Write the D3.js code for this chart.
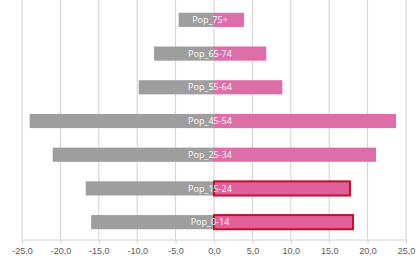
<!DOCTYPE html>
<html>
<head>
<meta charset="utf-8">
<script src="https://cdn.jsdelivr.net/npm/d3@7"></script>
<style>
  body { margin: 0; background: #fff; }
  svg { display: block; font-family: "Open Sans", sans-serif; }
</style>
</head>
<body>
<div class="pyramid"></div>
<script>
const groups = ["Pop_75+", "Pop_65-74", "Pop_55-64", "Pop_45-54", "Pop_25-34", "Pop_15-24", "Pop_0-14"];
const male = [-4.6, -7.8, -9.8, -24.0, -21.0, -16.7, -16.0];
const female = [3.9, 6.8, 8.9, 23.7, 21.1, 17.7, 18.1];
const highlighted = ["Pop_15-24", "Pop_0-14"];
const xTicks = [-25, -20, -15, -10, -5, 0, 5, 10, 15, 20, 25];

const w = 419;
const h = 266;

const svg = d3.select(".pyramid")
    .append("svg")
    .attr("width", w)
    .attr("height", h);

const x = d3.scaleLinear().domain([-25, 25]).range([22, 406]);
const y = d3.scaleBand().domain(groups).range([3, 239]).paddingInner(0.58).paddingOuter(0.29);

// vertical gridlines
svg.append("g")
    .selectAll("line")
    .data(xTicks)
    .enter()
    .append("line")
    .attr("x1", d => x(d))
    .attr("x2", d => x(d))
    .attr("y1", 0)
    .attr("y2", 239)
    .attr("stroke", "#d0d0d0")
    .attr("stroke-width", 1);

// x axis
const xAxis = svg.append("g")
    .attr("transform", "translate(0,239.5)")
    .call(d3.axisBottom(x).tickValues(xTicks).tickSize(4).tickFormat(d => d3.format(".1f")(d).replace(".", ",").replace("−", "-")));
xAxis.select(".domain").attr("stroke", "#d0d0d0");
xAxis.selectAll(".tick line").attr("stroke", "#d0d0d0");
xAxis.selectAll(".tick text")
    .attr("fill", "#595959")
    .attr("font-size", 9)
    .attr("dy", "0.85em");

// male bars
svg.append("g")
    .selectAll("rect")
    .data(groups)
    .enter()
    .append("rect")
    .attr("x", (d, i) => x(male[i]))
    .attr("y", d => y(d))
    .attr("width", (d, i) => x(0) - x(male[i]))
    .attr("height", y.bandwidth())
    .attr("fill", "#9e9e9e");

// female bars
svg.append("g")
    .selectAll("rect")
    .data(groups)
    .enter()
    .append("rect")
    .attr("x", x(0))
    .attr("y", d => y(d))
    .attr("width", (d, i) => x(female[i]) - x(0))
    .attr("height", y.bandwidth())
    .attr("fill", d => highlighted.includes(d) ? "#e0609a" : "#dc6ea8")
    .attr("stroke", d => highlighted.includes(d) ? "#c4102c" : "none")
    .attr("stroke-width", 2);

// labels
svg.append("g")
    .selectAll("text")
    .data(groups)
    .enter()
    .append("text")
    .attr("x", x(0) - 4)
    .attr("y", d => y(d) + y.bandwidth() / 2)
    .attr("dy", "0.35em")
    .attr("text-anchor", "middle")
    .attr("font-size", 9)
    .attr("fill", "#ffffff")
    .text(d => d);
</script>
</body>
</html>
